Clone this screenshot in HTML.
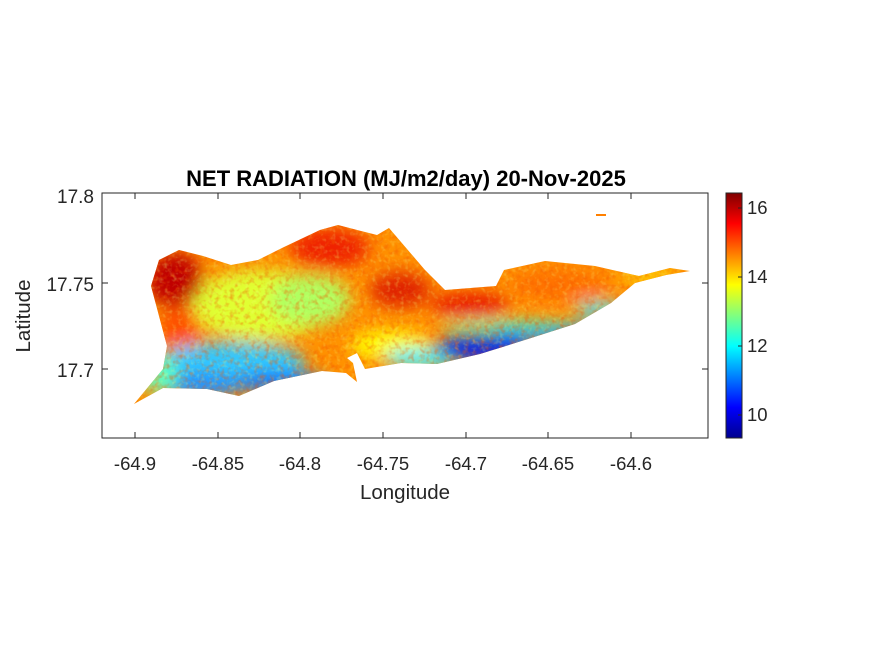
<!DOCTYPE html>
<html><head><meta charset="utf-8"><style>
body{margin:0;background:#fff;}
svg{display:block;font-family:"Liberation Sans",Arial,sans-serif;}
</style></head><body>
<svg width="875" height="656" viewBox="0 0 875 656" xmlns="http://www.w3.org/2000/svg">
<defs>
<clipPath id="isl"><path d="M134,404 L163,388 L207,389 L239,396 L274,381 L322,371 L346,373 L357,382 L353,363 L347,358 L357,353 L365,369 L401,363 L437,364 L480,354 L528,339 L575,324 L611,303 L635,283 L666,275 L690,271 L670,268 L639,276 L595,266 L545,261 L504,270 L496,286 L445,290 L425,270 L389,228 L377,235 L361,231 L338,225 L320,230 L282,248 L258,260 L231,265 L203,256 L179,250 L159,260 L151,286 L159,316 L167,346 L163,369 Z"/></clipPath>
<filter id="bl" x="-20%" y="-20%" width="140%" height="140%"><feGaussianBlur stdDeviation="8"/></filter>
<filter id="tx"><feTurbulence type="fractalNoise" baseFrequency="0.2" numOctaves="2" seed="3"/><feColorMatrix type="matrix" values="0 0 0 0 0.9  0 0 0 0 0.1  0 0 0 0 0  0 0 0 2.6 -1.2"/></filter>
<filter id="tx2"><feTurbulence type="fractalNoise" baseFrequency="0.22" numOctaves="2" seed="9"/><feColorMatrix type="matrix" values="0 0 0 0 0.9  0 0 0 0 1  0 0 0 0 0.2  0 0 0 2.6 -1.3"/></filter>
<linearGradient id="jet" x1="0" y1="1" x2="0" y2="0">
<stop offset="0" stop-color="#00008f"/><stop offset="0.125" stop-color="#0000ff"/><stop offset="0.375" stop-color="#00ffff"/><stop offset="0.625" stop-color="#ffff00"/><stop offset="0.875" stop-color="#ff0000"/><stop offset="1" stop-color="#800000"/>
</linearGradient>
</defs>
<rect x="102" y="193" width="606" height="245" fill="#fff" stroke="#262626" stroke-width="1"/>
<g clip-path="url(#isl)">
<rect x="120" y="215" width="590" height="200" fill="#ff9000"/>
<g filter="url(#bl)">
<ellipse cx="260" cy="305" rx="70" ry="35" fill="#e0ff30"/>
<ellipse cx="310" cy="300" rx="40" ry="25" fill="#b0ff60"/>
<ellipse cx="175" cy="280" rx="28" ry="28" fill="#c00000"/>
<ellipse cx="180" cy="330" rx="20" ry="25" fill="#ff5000"/>
<ellipse cx="330" cy="248" rx="40" ry="20" fill="#f02000"/>
<ellipse cx="400" cy="290" rx="30" ry="18" fill="#e02000"/>
<ellipse cx="470" cy="305" rx="40" ry="12" fill="#e81800"/>
<ellipse cx="560" cy="285" rx="50" ry="14" fill="#ff7000"/>
<ellipse cx="650" cy="276" rx="30" ry="8" fill="#ffd000"/>
<ellipse cx="390" cy="345" rx="40" ry="15" fill="#ffff00"/>
<ellipse cx="230" cy="362" rx="75" ry="20" fill="#30c8ff"/>
<ellipse cx="200" cy="385" rx="45" ry="12" fill="#2090ff"/>
<ellipse cx="280" cy="382" rx="45" ry="10" fill="#1070ff"/>
<ellipse cx="160" cy="375" rx="18" ry="18" fill="#60ffc0"/>
<ellipse cx="420" cy="358" rx="35" ry="10" fill="#40f0ff"/>
<ellipse cx="480" cy="348" rx="45" ry="12" fill="#0020f0"/>
<ellipse cx="545" cy="332" rx="50" ry="9" fill="#0050ff"/>
<ellipse cx="600" cy="310" rx="25" ry="8" fill="#40e0ff"/>
<ellipse cx="510" cy="326" rx="70" ry="5" fill="#40ffd0"/>
</g>
<rect x="120" y="215" width="590" height="200" filter="url(#tx)" opacity="0.45"/>
<rect x="120" y="215" width="590" height="200" filter="url(#tx2)" opacity="0.3"/>
</g>
<rect x="596" y="214" width="10" height="2" fill="#ff8000"/>
<g stroke="#262626" stroke-width="1">
<line x1="135" y1="438" x2="135" y2="432"/><line x1="218" y1="438" x2="218" y2="432"/><line x1="300" y1="438" x2="300" y2="432"/><line x1="383" y1="438" x2="383" y2="432"/><line x1="466" y1="438" x2="466" y2="432"/><line x1="548" y1="438" x2="548" y2="432"/><line x1="631" y1="438" x2="631" y2="432"/>
<line x1="135" y1="193" x2="135" y2="199"/><line x1="218" y1="193" x2="218" y2="199"/><line x1="300" y1="193" x2="300" y2="199"/><line x1="383" y1="193" x2="383" y2="199"/><line x1="466" y1="193" x2="466" y2="199"/><line x1="548" y1="193" x2="548" y2="199"/><line x1="631" y1="193" x2="631" y2="199"/>
<line x1="102" y1="283" x2="108" y2="283"/><line x1="102" y1="369" x2="108" y2="369"/>
<line x1="708" y1="283" x2="702" y2="283"/><line x1="708" y1="369" x2="702" y2="369"/>
</g>
<g font-size="18.5" fill="#262626" text-anchor="middle">
<text x="135" y="470">-64.9</text><text x="218" y="470">-64.85</text><text x="300" y="470">-64.8</text><text x="383" y="470">-64.75</text><text x="466" y="470">-64.7</text><text x="548" y="470">-64.65</text><text x="631" y="470">-64.6</text>
</g>
<g font-size="19" fill="#262626" text-anchor="end">
<text x="94" y="203">17.8</text><text x="94" y="291">17.75</text><text x="94" y="377">17.7</text>
</g>
<text x="405" y="499" font-size="20.5" fill="#262626" text-anchor="middle">Longitude</text>
<text transform="translate(30,316) rotate(-90)" font-size="20.5" fill="#262626" text-anchor="middle">Latitude</text>
<text x="406" y="186" font-size="22" font-weight="bold" fill="#000" text-anchor="middle">NET RADIATION (MJ/m2/day) 20-Nov-2025</text>
<rect x="726" y="193" width="16" height="245" fill="url(#jet)" stroke="#262626" stroke-width="1"/>
<g stroke="#262626"><line x1="738" y1="208" x2="742" y2="208"/><line x1="738" y1="277" x2="742" y2="277"/><line x1="738" y1="346" x2="742" y2="346"/><line x1="738" y1="415" x2="742" y2="415"/></g>
<g font-size="18.5" fill="#262626"><text x="747" y="214">16</text><text x="747" y="283">14</text><text x="747" y="352">12</text><text x="747" y="421">10</text></g>
</svg>
</body></html>
